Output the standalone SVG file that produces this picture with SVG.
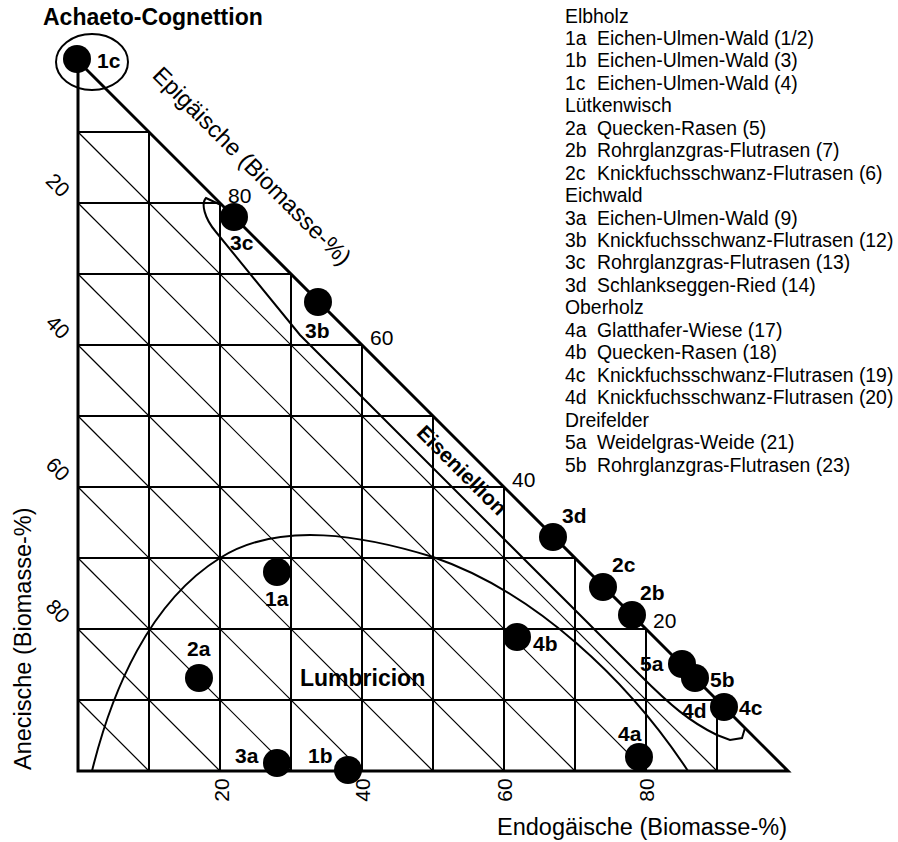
<svg xmlns="http://www.w3.org/2000/svg" width="898" height="842" viewBox="0 0 898 842">
<style>
text{font-family:"Liberation Sans",Arial,sans-serif;fill:#000}
.lg{font-size:19.4px}
.tk{font-size:21px}
.ax{font-size:23.5px}
.lb{font-size:21px;font-weight:bold}
.rg{font-size:23px;font-weight:bold}
.grid{stroke:#000;stroke-width:2;fill:none}
.diag{stroke:#000;stroke-width:1.2;fill:none}
.frame{stroke:#000;stroke-width:3;fill:none;stroke-linejoin:miter}
.bnd{stroke:#000;stroke-width:2;fill:none}
.dot{fill:#000}
</style>
<rect width="898" height="842" fill="#fff"/>
<g id="grid">
<g class="diag">
<line x1="78" y1="132" x2="717" y2="771"/>
<line x1="78" y1="203" x2="646" y2="771"/>
<line x1="78" y1="274" x2="575" y2="771"/>
<line x1="78" y1="345" x2="504" y2="771"/>
<line x1="78" y1="416" x2="433" y2="771"/>
<line x1="78" y1="487" x2="362" y2="771"/>
<line x1="78" y1="558" x2="291" y2="771"/>
<line x1="78" y1="629" x2="220" y2="771"/>
<line x1="78" y1="700" x2="149" y2="771"/>
</g>
<g class="grid">
<line x1="78" y1="700" x2="717" y2="700"/>
<line x1="78" y1="629" x2="646" y2="629"/>
<line x1="78" y1="558" x2="575" y2="558"/>
<line x1="78" y1="487" x2="504" y2="487"/>
<line x1="78" y1="416" x2="433" y2="416"/>
<line x1="78" y1="345" x2="362" y2="345"/>
<line x1="78" y1="274" x2="291" y2="274"/>
<line x1="78" y1="203" x2="220" y2="203"/>
<line x1="78" y1="132" x2="149" y2="132"/>
<line x1="149" y1="771" x2="149" y2="132"/>
<line x1="220" y1="771" x2="220" y2="203"/>
<line x1="291" y1="771" x2="291" y2="274"/>
<line x1="362" y1="771" x2="362" y2="345"/>
<line x1="433" y1="771" x2="433" y2="416"/>
<line x1="504" y1="771" x2="504" y2="487"/>
<line x1="575" y1="771" x2="575" y2="558"/>
<line x1="646" y1="771" x2="646" y2="629"/>
<line x1="717" y1="771" x2="717" y2="700"/>
</g>
<path class="frame" d="M78,61 L78,771 L788,771 Z"/>
</g>
<g id="connectors">
<path id="lumbricion-boundary" class="bnd" d="M92,771 C112,690 149.5,602 220,558 C280,520 365,536 433,557 C535,592 628,680 688,771"/>
<path id="eiseniellion-boundary" class="bnd" d="M221,205 L206,198 C201,203 204,218 216,232 L300,335 L640,675 C670,705 690,722 717,735 L730,740 L742,738 L745,728"/>
<ellipse id="achaeto-boundary" class="bnd" cx="92" cy="62" rx="36" ry="28"/>
</g>
<g id="axis-labels">
<text class="rg" x="43" y="25">Achaeto-Cognettion</text>
<text class="rg" x="300" y="686">Lumbricion</text>
<text class="lb" transform="translate(462,470) rotate(45)" text-anchor="middle" y="7.5">Eiseniellion</text>
<text class="ax" transform="translate(252,166) rotate(45)" text-anchor="middle" y="8">Epigäische (Biomasse-%)</text>
<text class="ax" transform="translate(31,770) rotate(-90)">Anecische (Biomasse-%)</text>
<text class="ax" x="497" y="835">Endogäische (Biomasse-%)</text>
<g class="tk">
<text transform="translate(58,185) rotate(45)" text-anchor="middle" y="7.5">20</text>
<text transform="translate(58,327) rotate(45)" text-anchor="middle" y="7.5">40</text>
<text transform="translate(58,469) rotate(45)" text-anchor="middle" y="7.5">60</text>
<text transform="translate(58,611) rotate(45)" text-anchor="middle" y="7.5">80</text>
<text transform="translate(221,790) rotate(-90)" text-anchor="middle" y="7.5">20</text>
<text transform="translate(362,790) rotate(-90)" text-anchor="middle" y="7.5">40</text>
<text transform="translate(504,790) rotate(-90)" text-anchor="middle" y="7.5">60</text>
<text transform="translate(646,790) rotate(-90)" text-anchor="middle" y="7.5">80</text>
<text x="228" y="203">80</text>
<text x="370" y="345">60</text>
<text x="512" y="487">40</text>
<text x="653" y="628">20</text>
</g>
</g>
<g id="n1c"><circle class="dot" cx="77" cy="59" r="14"/><text class="lb" x="97" y="68">1c</text></g>
<g id="n3c"><circle class="dot" cx="234" cy="217" r="14"/><text class="lb" x="230" y="250">3c</text></g>
<g id="n3b"><circle class="dot" cx="318" cy="302" r="14"/><text class="lb" x="305" y="338">3b</text></g>
<g id="n3d"><circle class="dot" cx="553" cy="537" r="14"/><text class="lb" x="562" y="523">3d</text></g>
<g id="n2c"><circle class="dot" cx="603" cy="587" r="14"/><text class="lb" x="612" y="572">2c</text></g>
<g id="n2b"><circle class="dot" cx="632" cy="615" r="14"/><text class="lb" x="640" y="600">2b</text></g>
<g id="n4b"><circle class="dot" cx="517" cy="637" r="14"/><text class="lb" x="533" y="651">4b</text></g>
<g id="n5a"><circle class="dot" cx="682" cy="664" r="14"/><text class="lb" x="640" y="671">5a</text></g>
<g id="n5b"><circle class="dot" cx="695" cy="678" r="14"/><text class="lb" x="710" y="687">5b</text></g>
<g id="n4c"><circle class="dot" cx="724" cy="707" r="14"/><text class="lb" x="739" y="715">4c</text></g>
<g id="n4d"><text class="lb" x="682" y="718">4d</text></g>
<g id="n4a"><circle class="dot" cx="639" cy="757" r="14"/><text class="lb" x="618" y="741">4a</text></g>
<g id="n1a"><circle class="dot" cx="277" cy="572" r="14"/><text class="lb" x="265" y="606">1a</text></g>
<g id="n2a"><circle class="dot" cx="199" cy="678" r="14"/><text class="lb" x="187" y="656">2a</text></g>
<g id="n3a"><circle class="dot" cx="277" cy="763" r="14"/><text class="lb" x="235" y="763">3a</text></g>
<g id="n1b"><circle class="dot" cx="348" cy="770" r="14"/><text class="lb" x="308" y="763">1b</text></g>
<g id="legend" class="lg">
<text x="565" y="22.5">Elbholz</text>
<text x="565" y="44.9">1a</text><text x="597" y="44.9">Eichen-Ulmen-Wald (1/2)</text>
<text x="565" y="67.4">1b</text><text x="597" y="67.4">Eichen-Ulmen-Wald (3)</text>
<text x="565" y="89.8">1c</text><text x="597" y="89.8">Eichen-Ulmen-Wald (4)</text>
<text x="565" y="112.3">Lütkenwisch</text>
<text x="565" y="134.7">2a</text><text x="597" y="134.7">Quecken-Rasen (5)</text>
<text x="565" y="157.2">2b</text><text x="597" y="157.2">Rohrglanzgras-Flutrasen (7)</text>
<text x="565" y="179.6">2c</text><text x="597" y="179.6">Knickfuchsschwanz-Flutrasen (6)</text>
<text x="565" y="202.1">Eichwald</text>
<text x="565" y="224.5">3a</text><text x="597" y="224.5">Eichen-Ulmen-Wald (9)</text>
<text x="565" y="247">3b</text><text x="597" y="247">Knickfuchsschwanz-Flutrasen (12)</text>
<text x="565" y="269.4">3c</text><text x="597" y="269.4">Rohrglanzgras-Flutrasen (13)</text>
<text x="565" y="291.9">3d</text><text x="597" y="291.9">Schlankseggen-Ried (14)</text>
<text x="565" y="314.3">Oberholz</text>
<text x="565" y="336.8">4a</text><text x="597" y="336.8">Glatthafer-Wiese (17)</text>
<text x="565" y="359.2">4b</text><text x="597" y="359.2">Quecken-Rasen (18)</text>
<text x="565" y="381.7">4c</text><text x="597" y="381.7">Knickfuchsschwanz-Flutrasen (19)</text>
<text x="565" y="404.1">4d</text><text x="597" y="404.1">Knickfuchsschwanz-Flutrasen (20)</text>
<text x="565" y="426.6">Dreifelder</text>
<text x="565" y="449">5a</text><text x="597" y="449">Weidelgras-Weide (21)</text>
<text x="565" y="471.5">5b</text><text x="597" y="471.5">Rohrglanzgras-Flutrasen (23)</text>
</g>
</svg>
